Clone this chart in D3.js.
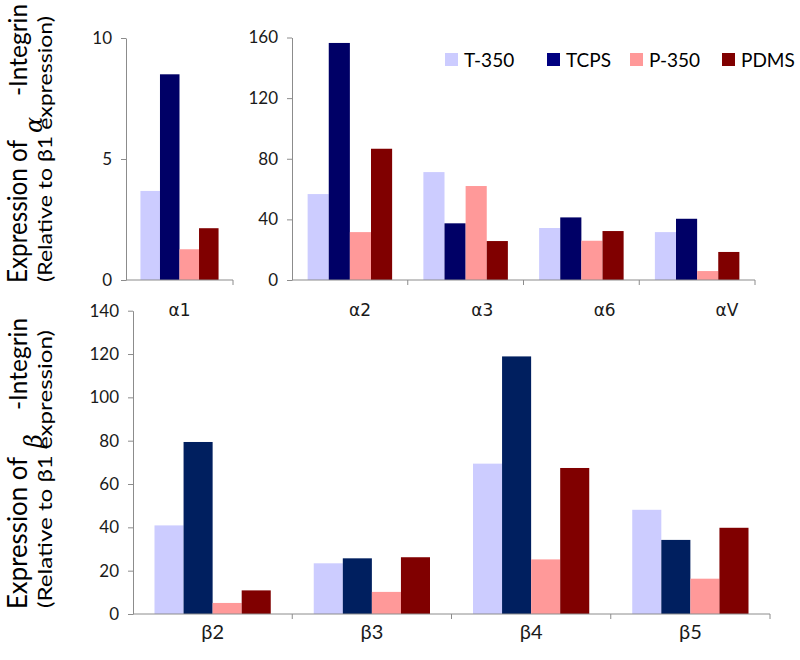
<!DOCTYPE html>
<html>
<head>
<meta charset="utf-8">
<script src="https://cdn.jsdelivr.net/npm/d3@7"></script>
<style>
  html, body { margin: 0; padding: 0; background: #fff; }
  svg { display: block; }
</style>
</head>
<body>
<svg id="chart" width="800" height="660"></svg>
<script>
// ---------------- DATA ----------------
const seriesNames = ["T-350", "TCPS", "P-350", "PDMS"];

const alphaCats = ["α1", "α2", "α3", "α6", "αV"];
const t350Alpha = [3.68, 56.7, 71.2, 34.3, 31.6];
const tcpsAlpha = [8.5, 156.4, 37.4, 41.3, 40.4];
const p350Alpha = [1.27, 31.6, 62.0, 25.9, 5.9];
const pdmsAlpha = [2.14, 86.6, 25.7, 32.3, 18.5];

const betaCats = ["β2", "β3", "β4", "β5"];
const t350Beta = [40.9, 23.4, 69.4, 48.1];
const tcpsBeta = [79.4, 25.7, 118.9, 34.2];
const p350Beta = [5.1, 10.2, 25.2, 16.3];
const pdmsBeta = [10.9, 26.2, 67.4, 39.8];

const alphaLeftTicks = [0, 5, 10];
const alphaRightTicks = [0, 40, 80, 120, 160];
const betaTicks = [0, 20, 40, 60, 80, 100, 120, 140];

// ---------------- STYLE ----------------
const alphaColors = ["#ccccff", "#000066", "#ff9999", "#800000"];
const betaColors = ["#ccccff", "#001f5f", "#ff9999", "#800000"];
const legendColors = ["#ccccff", "#000080", "#ff9999", "#800000"];
const axisColor = "#8c8c8c";
const numFont = "Lato, 'Noto Sans', sans-serif";

const svg = d3.select("#chart");

function buildRows(cats, arrays) {
  return cats.map((c, i) => ({ cat: c, values: arrays.map(a => a[i]) }));
}

const alphaRows = buildRows(alphaCats, [t350Alpha, tcpsAlpha, p350Alpha, pdmsAlpha]);
const betaRows = buildRows(betaCats, [t350Beta, tcpsBeta, p350Beta, pdmsBeta]);

function panel(opts) {
  const { rows, xRange, yDomain, yRange, ticks, colors, labelRange, catFont, catSize, catY } = opts;
  const g = svg.append("g");
  const x = d3.scaleBand().domain(rows.map(r => r.cat)).range(xRange)
    .paddingInner(0.27).paddingOuter(0.135);
  const x1 = d3.scaleBand().domain(d3.range(seriesNames.length)).range([0, x.bandwidth()]);
  const y = d3.scaleLinear().domain(yDomain).range(yRange);

  // bars
  const grp = g.selectAll("g.cat").data(rows).join("g")
    .attr("transform", d => `translate(${x(d.cat)},0)`);
  grp.selectAll("rect").data(d => d.values.map((v, i) => ({ v, i }))).join("rect")
    .attr("x", d => x1(d.i))
    .attr("width", x1.bandwidth())
    .attr("y", d => y(d.v))
    .attr("height", d => y(0) - y(d.v))
    .attr("fill", d => colors[d.i]);

  // y axis
  const ya = g.append("g").attr("transform", `translate(${xRange[0]},0)`)
    .call(d3.axisLeft(y).tickValues(ticks).tickSize(5).tickSizeOuter(0).tickPadding(9));
  ya.select(".domain").attr("stroke", axisColor);
  ya.selectAll(".tick line").attr("stroke", axisColor);
  ya.selectAll(".tick text").attr("font-family", numFont).attr("font-size", 17).attr("fill", "#1a1a1a");

  // x axis line with boundary ticks
  const xa = g.append("g").attr("transform", `translate(0,${y(0)})`);
  xa.append("line").attr("x1", xRange[0]).attr("x2", xRange[1]).attr("stroke", axisColor);
  const bounds = rows.map(r => x(r.cat) - x.step() * x.paddingInner() / 2).slice(1).concat([xRange[1]]);
  xa.selectAll("line.b").data(bounds).join("line").attr("class", "b")
    .attr("x1", d => d).attr("x2", d => d).attr("y1", 0).attr("y2", 5)
    .attr("stroke", axisColor);

  const lx = labelRange ? d3.scalePoint().domain(rows.map(r => r.cat)).range(labelRange)
                        : (c => x(c) + x.bandwidth() / 2);
  g.selectAll("text.cat").data(rows).join("text").attr("class", "cat")
    .attr("x", d => lx(d.cat)).attr("y", catY)
    .attr("text-anchor", "middle")
    .attr("font-family", catFont).attr("font-size", catSize).attr("fill", "#1a1a1a")
    .text(d => d.cat);
  return { x, y };
}

// top-left: α1
panel({
  rows: alphaRows.slice(0, 1), xRange: [126, 233], yDomain: [0, 10], yRange: [280, 38],
  ticks: alphaLeftTicks, colors: alphaColors,
  catFont: "'DejaVu Sans', sans-serif", catSize: 17, catY: 316
});
// top-right: α2..αV
panel({
  rows: alphaRows.slice(1), xRange: [292, 755], yDomain: [0, 160], yRange: [280, 37.5],
  ticks: alphaRightTicks, colors: alphaColors, labelRange: [360, 727],
  catFont: "'DejaVu Sans', sans-serif", catSize: 17, catY: 316
});
// bottom: β
panel({
  rows: betaRows, xRange: [133, 770], yDomain: [0, 140], yRange: [614, 310.7],
  ticks: betaTicks, colors: betaColors,
  catFont: numFont, catSize: 20, catY: 639
});

// legend
const legendX = [445, 547, 630, 722];
const lg = svg.append("g");
seriesNames.forEach((s, i) => {
  lg.append("rect").attr("x", legendX[i]).attr("y", 53).attr("width", 13).attr("height", 13)
    .attr("fill", legendColors[i]);
  lg.append("text").attr("x", legendX[i] + 19).attr("y", 66.5)
    .attr("font-family", numFont).attr("font-size", 19).attr("fill", "#000").text(s);
});

// y-axis titles
function rotText(x, y, str, size, len, family, style) {
  const t = svg.append("text")
    .attr("transform", `translate(${x},${y}) rotate(-90)`)
    .attr("font-family", family || numFont).attr("font-size", size).attr("fill", "#000")
    .text(str);
  if (len) t.attr("textLength", len).attr("lengthAdjust", "spacingAndGlyphs");
  if (style) t.attr("font-style", style);
  return t;
}
function yTitle(greek, g) {
  rotText(27, g.start, "Expression of", 26, g.lenA);
  rotText(42, g.greekStart, greek, 24, null, "'DejaVu Serif', serif", "italic");
  rotText(27, g.intStart, "-Integrin", 24.5, null);
  rotText(52, g.start - 1, "(Relative to β1 expression)", 19, g.lenB);
}
yTitle("α", { start: 283, lenA: 143, greekStart: 133, intStart: 96, lenB: 266 });
yTitle("β", { start: 609, lenA: 152, greekStart: 448, intStart: 410, lenB: 278 });
</script>
</body>
</html>
